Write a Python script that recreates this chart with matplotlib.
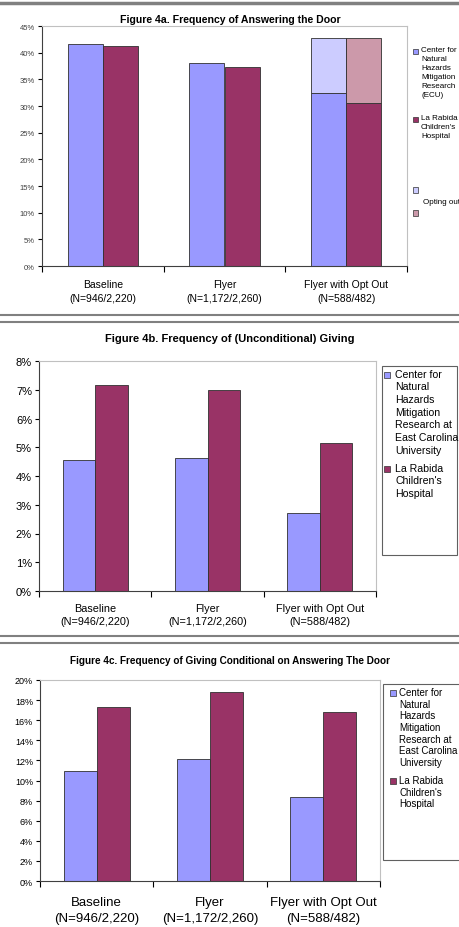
import numpy as np
import matplotlib.pyplot as plt
from matplotlib.patches import Rectangle
from matplotlib.lines import Line2D
from matplotlib.ticker import FixedLocator, FuncFormatter

plt.rcParams['font.family'] = ['Liberation Sans', 'DejaVu Sans']

# ---------------------------------------------------------------
# Data
# ---------------------------------------------------------------
groups = ['Baseline\n(N=946/2,220)', 'Flyer\n(N=1,172/2,260)', 'Flyer with Opt Out\n(N=588/482)']

door_ecu = [41.7, 38.0, 32.4]
door_rabida = [41.3, 37.3, 30.5]
door_optout_top = [None, None, 42.8]   # only the opt-out group has the opting-out part

giving_ecu = [4.55, 4.62, 2.71]
giving_rabida = [7.17, 6.98, 5.14]

cond_ecu = [10.9, 12.13, 8.33]
cond_rabida = [17.36, 18.78, 16.83]

ecu_short = 'Center for\nNatural\nHazards\nMitigation\nResearch\n(ECU)'
ecu_long = 'Center for\nNatural\nHazards\nMitigation\nResearch at\nEast Carolina\nUniversity'
rabida = "La Rabida\nChildren's\nHospital"

BLUE = '#9999FF'
RED = '#993366'
LIGHT_BLUE = '#CCCCFF'
PINK = '#CC99AA'

W, H = 459, 928
fig = plt.figure(figsize=(W / 100, H / 100), dpi=100)


def px_axes(l, t, r, b):
    return fig.add_axes([l / W, 1 - b / H, (r - l) / W, (b - t) / H])


def hline(y, lw, color='#808080'):
    fig.add_artist(Line2D([0, 1], [1 - y / H, 1 - y / H], color=color, lw=lw,
                          transform=fig.transFigure))


def box(x, y, w, h, fc, ec='#303030', lw=0.5):
    # rectangle given in pixel coords from the top-left corner
    fig.add_artist(Rectangle((x / W, 1 - (y + h) / H), w / W, h / H, facecolor=fc,
                             edgecolor=ec, lw=lw, transform=fig.transFigure))


# legend drawn by hand so the swatch sits on the first text line
def legend_entry(sx, tx, y, size, color, label, fs, ls=1.2):
    box(sx, y - size / 2, size, size, color)
    fig.text(tx / W, 1 - (y - fs * 100 / 72 * 0.6) / H, label, fontsize=fs,
             va='top', ha='left', linespacing=ls)


def style_axes(ax, ymax, ystep, ytick_size, xtick_size, xpad, xls):
    ax.set_xlim(0.5, 3.5)
    ax.set_ylim(0, ymax)
    ax.yaxis.set_major_locator(FixedLocator(np.arange(0, ymax + 0.001, ystep)))
    ax.yaxis.set_major_formatter(FuncFormatter(lambda v, p: '%d%%' % round(v)))
    ax.set_xticks([1, 2, 3])
    ax.set_xticklabels(groups, fontsize=xtick_size)
    for lab in ax.get_xticklabels():
        lab.set_linespacing(xls)
    ax.tick_params(axis='x', which='major', length=0, pad=xpad)
    ax.set_xticks([0.5, 1.5, 2.5, 3.5], minor=True)
    ax.tick_params(axis='x', which='minor', length=4, direction='out', width=0.8)
    ax.tick_params(axis='y', labelsize=ytick_size, length=3, width=0.8, pad=2)
    for s in ['top', 'right']:
        ax.spines[s].set_color('#C0C0C0')
        ax.spines[s].set_linewidth(0.8)
    for s in ['left', 'bottom']:
        ax.spines[s].set_color('#404040')
        ax.spines[s].set_linewidth(0.8)


x = np.arange(1, 4)
bw = 0.29
edge = dict(edgecolor='#303030', lw=0.6, zorder=2)

# ---------------------------------------------------------------
# Figure 4a
# ---------------------------------------------------------------
hline(4, 2.5)
ax1 = px_axes(42, 27, 407, 267)
ax1.bar(x - bw / 2, door_ecu, bw, color=BLUE, **edge)
ax1.bar(x + bw / 2, door_rabida, bw, color=RED, **edge)
ax1.bar(x[2] - bw / 2, door_optout_top[2] - door_ecu[2], bw, bottom=door_ecu[2],
        color=LIGHT_BLUE, **edge)
ax1.bar(x[2] + bw / 2, door_optout_top[2] - door_rabida[2], bw, bottom=door_rabida[2],
        color=PINK, **edge)
style_axes(ax1, 45, 5, 5.5, 7.5, 9, 1.5)
for lab in ax1.get_yticklabels():
    lab.set_color('#404040')
fig.text(230 / W, 1 - 20 / H, 'Figure 4a. Frequency of Answering the Door',
         ha='center', va='center', fontsize=7.6, fontweight='bold')

legend_entry(413, 421, 52, 5, BLUE, ecu_short, 5.8, 1.4)
legend_entry(413, 421, 120, 5, RED, rabida, 5.8, 1.4)
box(413, 188, 5, 6, LIGHT_BLUE)
box(413, 211, 5, 6, PINK)
fig.text(423 / W, 1 - 202 / H, 'Opting out', fontsize=5.8, va='center', ha='left')

# ---------------------------------------------------------------
# Figure 4b
# ---------------------------------------------------------------
hline(316, 1.5)
hline(323, 1.5)
ax2 = px_axes(39, 362, 376, 592)
ax2.bar(x - bw / 2, giving_ecu, bw, color=BLUE, **edge)
ax2.bar(x + bw / 2, giving_rabida, bw, color=RED, **edge)
style_axes(ax2, 8, 1, 8, 7.8, 9, 1.35)
fig.text(230 / W, 1 - 339 / H, 'Figure 4b. Frequency of (Unconditional) Giving',
         ha='center', va='center', fontsize=8, fontweight='bold')
box(382, 367, 75, 189, 'white', ec='#606060', lw=0.8)
legend_entry(384, 395, 376, 6, BLUE, ecu_long, 7.6, 1.33)
legend_entry(384, 395, 470, 6, RED, rabida, 7.6, 1.33)

# ---------------------------------------------------------------
# Figure 4c
# ---------------------------------------------------------------
hline(637, 1.5)
hline(644, 1.5)
ax3 = px_axes(40, 681, 380, 882)
ax3.bar(x - bw / 2, cond_ecu, bw, color=BLUE, **edge)
ax3.bar(x + bw / 2, cond_rabida, bw, color=RED, **edge)
style_axes(ax3, 20, 2, 6.5, 9.5, 11, 1.4)
fig.text(230 / W, 1 - 661 / H, 'Figure 4c. Frequency of Giving Conditional on Answering The Door',
         ha='center', va='center', fontsize=7.2, fontweight='bold')
box(383, 685, 80, 176, 'white', ec='#606060', lw=0.8)
legend_entry(390, 399, 694, 6, BLUE, ecu_long, 7)
legend_entry(390, 399, 782, 6, RED, rabida, 7)

fig.savefig('out.png', dpi=100)
